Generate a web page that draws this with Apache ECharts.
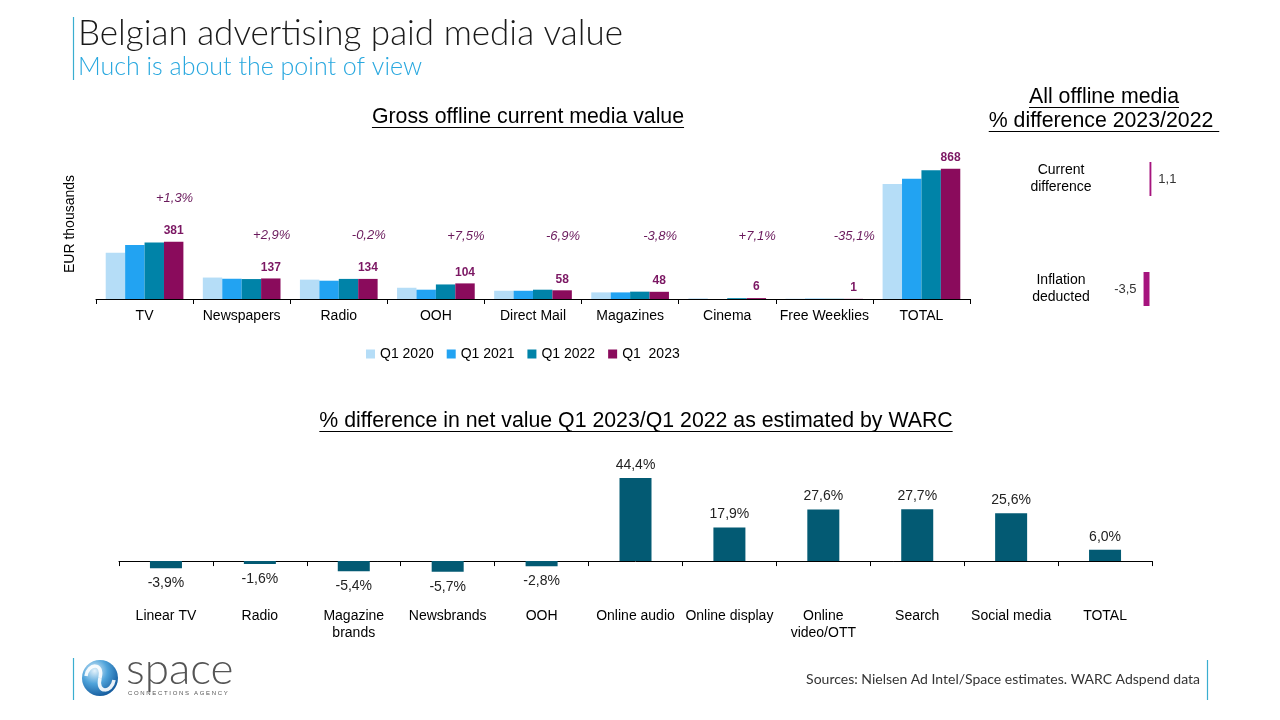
<!DOCTYPE html>
<html><head><meta charset="utf-8">
<script src="https://cdn.jsdelivr.net/npm/echarts@6/dist/echarts.min.js"></script>
<style>html,body{margin:0;padding:0;background:#fff}#c{width:1280px;height:720px}</style>
</head><body><div id="c"></div>
<script>
// ---- data ----
const categories = ['TV','Newspapers','Radio','OOH','Direct Mail','Magazines','Cinema','Free Weeklies','TOTAL'];
const seriesNames = ['Q1 2020','Q1 2021','Q1 2022','Q1  2023'];
const q1_2020 = [309, 143, 129, 75, 55, 44, 4, 2, 767];
const q1_2021 = [360, 135, 122, 62, 55, 44, 0, 2, 801];
const q1_2022 = [376, 133, 134, 97, 62, 49, 5.6, 1.5, 858];
const q1_2023 = [381, 137, 134, 104, 58, 48, 6, 1, 868];
const growth = ['+1,3%','+2,9%','-0,2%','+7,5%','-6,9%','-3,8%','+7,1%','-35,1%', null];

const offlineCats = ['Current\ndifference','Inflation\ndeducted'];
const offlineVals = [1.1, -3.5];

const warcCats = ['Linear TV','Radio','Magazine\nbrands','Newsbrands','OOH','Online audio','Online display','Online\nvideo/OTT','Search','Social media','TOTAL'];
const warcVals = [-3.9, -1.6, -5.4, -5.7, -2.8, 44.4, 17.9, 27.6, 27.7, 25.6, 6.0];

// ---- styling ----
const colors = ['#B5DDF7','#22A3F2','#0083A8','#8A0B5C'];
const F = '"Liberation Sans", Arial, sans-serif';
const TF = 'Lato, "Open Sans", sans-serif';
const fmt1 = v => v.toFixed(1).replace('.', ',');

const ctx = document.createElement('canvas').getContext('2d');
function tw(text, font){ ctx.font = font; return ctx.measureText(text).width; }
function titleWithLine(cx, y, text, size){
  const font = size + 'px ' + F;
  const w = tw(text, font);
  return [
    {type:'text', x:cx, y:y, style:{text:text, font:font, fill:'#000', align:'center', verticalAlign:'middle'}},
    {type:'line', shape:{x1:cx - w/2, y1:y+10.5, x2:cx + w/2, y2:y+10.5}, style:{stroke:'#000', lineWidth:1}}
  ];
}

const chart = echarts.init(document.getElementById('c'));

const barSeries = [q1_2020, q1_2021, q1_2022, q1_2023].map((arr, i) => ({
  name: seriesNames[i], type:'bar', xAxisIndex:0, yAxisIndex:0,
  data: arr, barGap:'0%', barCategoryGap:'20%',
  itemStyle:{color: colors[i]},
  label: i === 3 ? {show:true, position:'top', distance:5, fontFamily:F, fontSize:12, fontWeight:'bold', color:'#7B1763'} : {show:false}
}));

const pctSeries = {
  type:'scatter', xAxisIndex:0, yAxisIndex:0, symbolSize:1, itemStyle:{color:'rgba(0,0,0,0)'},
  data: categories.map((c, i) => growth[i] ? {value:[i, Math.max(420, q1_2023[i] + 290)], name:growth[i]} : null).filter(Boolean),
  label:{show:true, position:'inside', offset:[30,0], fontFamily:F, fontSize:13, fontStyle:'italic', color:'#6A1A5C', opacity:1,
    formatter: p => p.name}
};

const offlineSeries = {
  type:'bar', xAxisIndex:1, yAxisIndex:1, barWidth:34,
  data: offlineVals.map(v => ({value:v, label:{position: v >= 0 ? 'right' : 'left'}})),
  itemStyle:{color:'#A6147E'},
  label:{show:true, distance:7, fontFamily:F, fontSize:13, color:'#333', formatter: p => fmt1(p.value)}
};

const warcSeries = {
  type:'bar', xAxisIndex:2, yAxisIndex:2, barWidth:32,
  data: warcVals.map(v => ({value:v, label:{position: v >= 0 ? 'top' : 'bottom', distance: v >= 0 ? 6 : 8}})),
  itemStyle:{color:'#035A73'},
  label:{show:true, fontFamily:F, fontSize:14, color:'#222', formatter: p => fmt1(p.value) + '%'}
};

const graphics = [
  {type:'line', shape:{x1:73.5, y1:17, x2:73.5, y2:80}, style:{stroke:'#3AAED0', lineWidth:1.2}},
  {type:'text', x:78, y:34, style:{text:'Belgian advertising paid media value', font:'300 35px ' + TF, fill:'#1a1a1a', verticalAlign:'middle'}},
  {type:'text', x:78, y:67, style:{text:'Much is about the point of view', font:'300 25px ' + TF, fill:'#29A8DF', verticalAlign:'middle'}},
  ...titleWithLine(528, 117, 'Gross offline current media value', 21.3),
  ...titleWithLine(1104, 97, 'All offline media', 21.3),
  ...titleWithLine(1104, 121, '% difference 2023/2022 ', 21.3),
  ...titleWithLine(636, 421, '% difference in net value Q1 2023/Q1 2022 as estimated by WARC', 21.3),
  // logo
  {type:'line', shape:{x1:73.5, y1:658, x2:73.5, y2:700}, style:{stroke:'#3AAED0', lineWidth:1.2}},
  {type:'circle', shape:{cx:100, cy:678, r:18}, style:{fill:new echarts.graphic.RadialGradient(0.35,0.3,0.8,[{offset:0,color:'#E4F2FB'},{offset:0.45,color:'#4FA3DA'},{offset:1,color:'#0B4F93'}])}},
  {type:'bezierCurve', shape:{x1:86, y1:676, cpx1:88, cpy1:663, cpx2:104, cpy2:662, x2:100, y2:678}, style:{stroke:'#fff', lineWidth:3.5, fill:null, opacity:0.9}},
  {type:'bezierCurve', shape:{x1:100, y1:678, cpx1:96, cpy1:694, cpx2:112, cpy2:693, x2:114, y2:680}, style:{stroke:'#fff', lineWidth:3.5, fill:null, opacity:0.9}},
  {type:'text', x:126, y:670, style:{text:'space', font:'300 44px ' + TF, fill:'#555', verticalAlign:'middle'}},
  {type:'text', x:128, y:693, style:{text:'C O N N E C T I O N S   A G E N C Y', font:'6px ' + F, fill:'#555', verticalAlign:'middle'}},
  // sources
  {type:'text', x:1200, y:679, style:{text:'Sources: Nielsen Ad Intel/Space estimates. WARC Adspend data', font:'14px ' + TF, fill:'#333', align:'right', verticalAlign:'middle'}},
  {type:'line', shape:{x1:1207.5, y1:660, x2:1207.5, y2:700}, style:{stroke:'#3AAED0', lineWidth:1.2}}
];

chart.setOption({
  animation:false,
  backgroundColor:'#fff',
  textStyle:{fontFamily:F},
  legend:{data:seriesNames, left:361, top:342, itemWidth:9, itemHeight:9, icon:'rect', itemGap:13,
    textStyle:{fontFamily:F, fontSize:14, color:'#000'}},
  grid:[
    {left:96, right:310, top:149, height:150},
    {left:1107, width:68, top:124, height:220},
    {left:119, right:128, top:467.5, height:131}
  ],
  xAxis:[
    {type:'category', gridIndex:0, data:categories,
      axisLine:{show:true, lineStyle:{color:'#000'}}, axisTick:{show:true, interval:0, length:5, alignWithLabel:false, lineStyle:{color:'#000'}},
      axisLabel:{interval:0, fontFamily:F, fontSize:14, color:'#000', margin:10}},
    {type:'value', gridIndex:1, min:-25, max:15, show:false},
    {type:'category', gridIndex:2, data:warcCats,
      axisLine:{show:true, onZero:true, lineStyle:{color:'#000'}}, axisTick:{show:true, interval:0, length:5, alignWithLabel:false, lineStyle:{color:'#000'}},
      axisLabel:{show:false}},
    {type:'category', gridIndex:2, data:warcCats, position:'bottom',
      axisLine:{show:false, onZero:false}, axisTick:{show:false},
      axisLabel:{interval:0, fontFamily:F, fontSize:14, color:'#000', margin:9, lineHeight:17}}
  ],
  yAxis:[
    {type:'value', gridIndex:0, min:0, max:1000, name:'EUR thousands', nameLocation:'middle', nameGap:19, nameRotate:90,
      nameTextStyle:{fontFamily:F, fontSize:14, color:'#000'},
      axisLine:{show:false}, axisTick:{show:false}, axisLabel:{show:false}, splitLine:{show:false}},
    {type:'category', gridIndex:1, data:offlineCats, inverse:true,
      axisLine:{show:false}, axisTick:{show:false},
      axisLabel:{fontFamily:F, fontSize:14, color:'#000', align:'center', margin:46, lineHeight:17}},
    {type:'value', gridIndex:2, min:-20, max:50, show:false}
  ],
  series:[...barSeries, pctSeries, offlineSeries, warcSeries],
  graphic:graphics
});
</script></body></html>
